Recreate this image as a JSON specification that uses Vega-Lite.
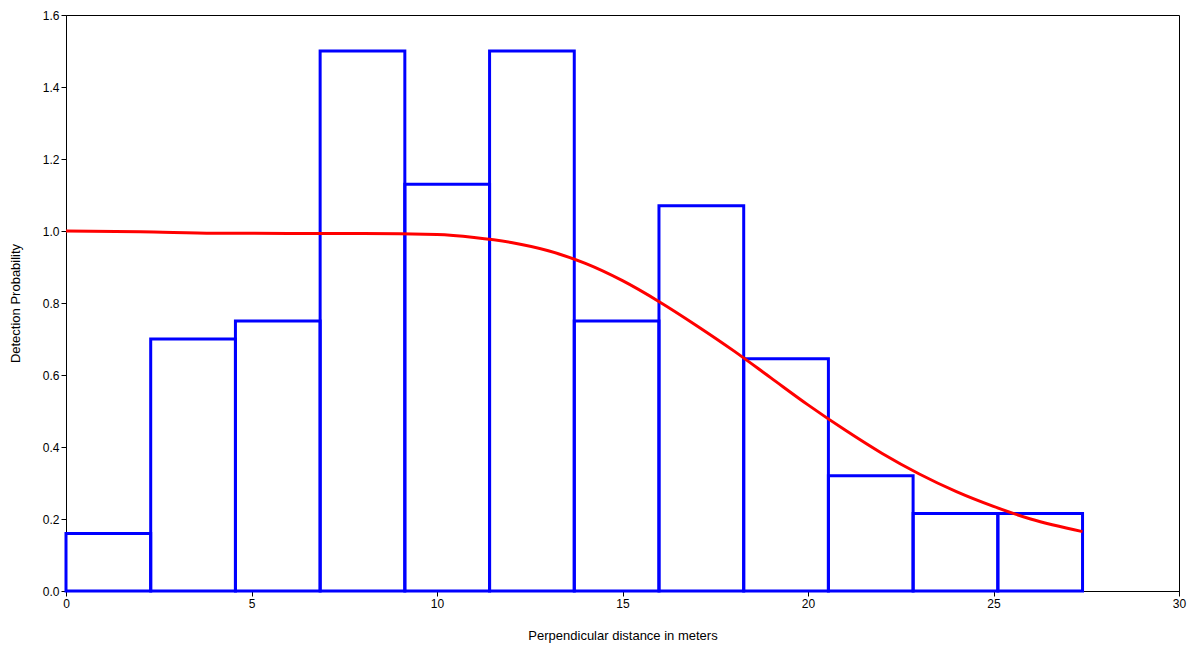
{
  "$schema": "https://vega.github.io/schema/vega-lite/v6.json",
  "width": 1113,
  "height": 576,
  "autosize": {"type": "none"},
  "padding": {"left": 66, "top": 15, "right": 13, "bottom": 59},
  "background": "white",
  "config": {
    "font": "Liberation Sans",
    "view": {"stroke": "black", "strokeWidth": 1},
    "axis": {"grid": false, "domainColor": "black", "tickColor": "black", "labelColor": "black", "titleColor": "black", "labelFontSize": 12, "titleFontSize": 13, "titleFontWeight": "normal", "tickSize": 5, "labelFlush": false}
  },
  "layer": [
    {
      "data": {"values": [
        {"lo": 0, "hi": 2.283, "p": 0.16},
        {"lo": 2.283, "hi": 4.567, "p": 0.70},
        {"lo": 4.567, "hi": 6.85, "p": 0.75},
        {"lo": 6.85, "hi": 9.133, "p": 1.50},
        {"lo": 9.133, "hi": 11.417, "p": 1.13},
        {"lo": 11.417, "hi": 13.7, "p": 1.50},
        {"lo": 13.7, "hi": 15.983, "p": 0.75},
        {"lo": 15.983, "hi": 18.267, "p": 1.07},
        {"lo": 18.267, "hi": 20.55, "p": 0.645},
        {"lo": 20.55, "hi": 22.833, "p": 0.32},
        {"lo": 22.833, "hi": 25.117, "p": 0.215},
        {"lo": 25.117, "hi": 27.4, "p": 0.215}
      ]},
      "mark": {"type": "rect", "fill": null, "fillOpacity": 0, "stroke": "#0000ff", "strokeWidth": 3},
      "encoding": {
        "x": {"field": "lo", "type": "quantitative", "scale": {"domain": [0, 30], "nice": false}, "axis": {"values": [0, 5, 10, 15, 20, 25, 30], "title": "Perpendicular distance in meters", "titlePadding": 20}},
        "x2": {"field": "hi"},
        "y": {"field": "p", "type": "quantitative", "scale": {"domain": [0, 1.6], "nice": false}, "axis": {"values": [0, 0.2, 0.4, 0.6, 0.8, 1.0, 1.2, 1.4, 1.6], "format": ".1f", "title": "Detection Probability", "titlePadding": 20}},
        "y2": {"datum": 0}
      }
    },
    {
      "data": {"values": [
        {"d": 0, "g": 1.0}, {"d": 2, "g": 0.998}, {"d": 4, "g": 0.994}, {"d": 6, "g": 0.993},
        {"d": 8, "g": 0.993}, {"d": 10, "g": 0.99}, {"d": 11, "g": 0.982}, {"d": 12, "g": 0.968},
        {"d": 13, "g": 0.945}, {"d": 14, "g": 0.91}, {"d": 15, "g": 0.862}, {"d": 16, "g": 0.803},
        {"d": 17, "g": 0.737}, {"d": 18, "g": 0.667}, {"d": 19, "g": 0.592}, {"d": 20, "g": 0.517},
        {"d": 21, "g": 0.447}, {"d": 22, "g": 0.382}, {"d": 23, "g": 0.325}, {"d": 24, "g": 0.276},
        {"d": 25, "g": 0.235}, {"d": 26, "g": 0.2}, {"d": 27.4, "g": 0.165}
      ]},
      "mark": {"type": "line", "color": "#ff0000", "strokeWidth": 3, "interpolate": "monotone"},
      "encoding": {
        "x": {"field": "d", "type": "quantitative"},
        "y": {"field": "g", "type": "quantitative"}
      }
    }
  ]
}
